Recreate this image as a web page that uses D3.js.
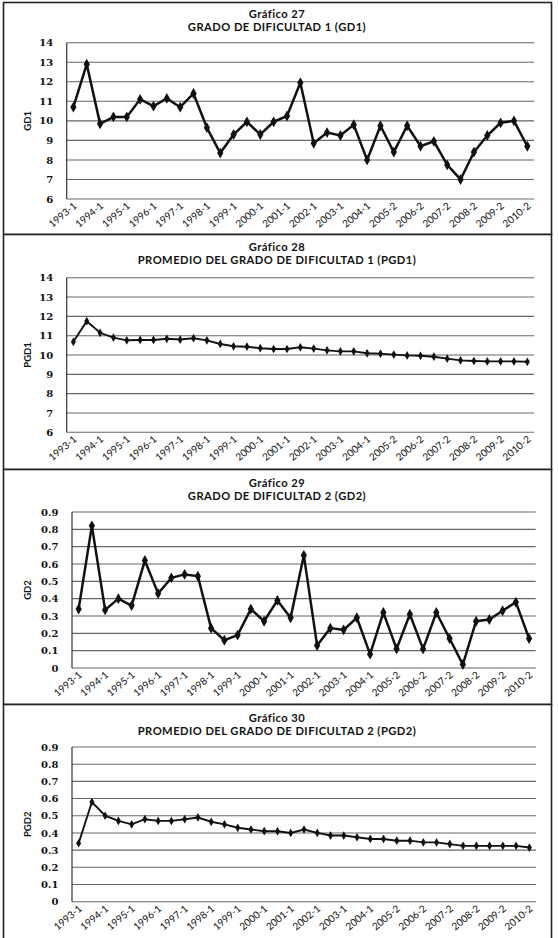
<!DOCTYPE html>
<html>
<head>
<meta charset="utf-8">
<script src="https://cdnjs.cloudflare.com/ajax/libs/d3/7.8.5/d3.min.js"></script>
<style>
  body { margin: 0; background: #fff; }
</style>
</head>
<body>
<div id="renderDiv"></div>
<script>
// semesters (one is missing between 2004-1 and 2005-2 in the source)
let periods = ["1993-1","1993-2","1994-1","1994-2","1995-1","1995-2","1996-1","1996-2",
  "1997-1","1997-2","1998-1","1998-2","1999-1","1999-2","2000-1","2000-2","2001-1","2001-2",
  "2002-1","2002-2","2003-1","2003-2","2004-1","2004-2","2005-2","2006-1","2006-2","2007-1",
  "2007-2","2008-1","2008-2","2009-1","2009-2","2010-1","2010-2"];

let gd1 = [10.7,12.9,9.85,10.2,10.2,11.1,10.75,11.15,10.7,11.4,9.65,8.35,9.3,9.95,9.3,9.95,
  10.25,11.95,8.85,9.4,9.25,9.8,8.0,9.75,8.4,9.75,8.7,8.95,7.75,7.0,8.4,9.25,9.9,10.0,8.7];
let pgd1 = [10.68,11.75,11.15,10.9,10.76,10.78,10.78,10.84,10.8,10.87,10.76,10.57,10.45,10.43,
  10.35,10.31,10.31,10.4,10.33,10.24,10.19,10.19,10.09,10.07,10.02,9.98,9.96,9.91,9.81,9.72,
  9.69,9.67,9.67,9.67,9.65];
let gd2 = [0.34,0.82,0.335,0.40,0.36,0.62,0.43,0.52,0.54,0.53,0.23,0.16,0.19,0.34,0.27,0.39,
  0.29,0.65,0.13,0.23,0.22,0.29,0.08,0.32,0.11,0.31,0.11,0.32,0.17,0.02,0.27,0.28,0.33,0.38,0.17];
let pgd2 = [0.34,0.58,0.50,0.47,0.45,0.48,0.47,0.47,0.48,0.49,0.465,0.45,0.43,0.42,0.41,0.41,
  0.40,0.42,0.40,0.385,0.385,0.375,0.365,0.365,0.355,0.355,0.345,0.345,0.335,0.325,0.325,
  0.325,0.325,0.325,0.315];

let ticksGD1 = [6,7,8,9,10,11,12,13,14];
let ticksGD2 = [0,0.1,0.2,0.3,0.4,0.5,0.6,0.7,0.8,0.9];

let titles = [
  ["Gráfico  27", "GRADO DE DIFICULTAD 1 (GD1)"],
  ["Gráfico  28", "PROMEDIO DEL GRADO DE DIFICULTAD 1 (PGD1)"],
  ["Gráfico  29", "GRADO DE DIFICULTAD 2 (GD2)"],
  ["Gráfico  30", "PROMEDIO DEL GRADO DE DIFICULTAD 2 (PGD2)"]
];
let yNames = ["GD1", "PGD1", "GD2", "PGD2"];

// layout of each panel
let charts = [
  {values: gd1,  ticks: ticksGD1, top: 2,   bottom: 234, ty: [17.5, 30.5], l: 66.7, t: 42.7,  r: 534,   b: 199,   lw: 2.5, ms: 34},
  {values: pgd1, ticks: ticksGD1, top: 234, bottom: 469, ty: [251, 264],   l: 66.7, t: 277.7, r: 534,   b: 432.3, lw: 1.9, ms: 22},
  {values: gd2,  ticks: ticksGD2, top: 469, bottom: 704, ty: [486.5, 500], l: 72,   t: 512,   r: 535.7, b: 668,   lw: 2.5, ms: 34},
  {values: pgd2, ticks: ticksGD2, top: 704, bottom: 945, ty: [721.5, 735], l: 72,   t: 747,   r: 536,   b: 901.7, lw: 1.9, ms: 22}
];

let W = 558, H = 938;
let sans = "Lato, 'Open Sans', sans-serif";

let svg = d3.select("#renderDiv").append("svg")
    .attr("width", W)
    .attr("height", H);

charts.forEach(function(c, i){
    let g = svg.append("g");

    // panel frame
    g.append("rect")
        .attr("x", 3.5).attr("y", c.top + 0.5)
        .attr("width", 548).attr("height", c.bottom - c.top)
        .attr("fill", "#fff")
        .attr("stroke", "#222")
        .attr("stroke-width", 1.6);

    // titles
    g.selectAll(".title")
        .data(titles[i])
        .enter()
        .append("text")
        .attr("x", 277)
        .attr("y", function(d, k){ return c.ty[k]; })
        .attr("text-anchor", "middle")
        .style("font-family", sans)
        .style("font-weight", "bold")
        .style("font-size", "11.2px")
        .style("letter-spacing", "0.45px")
        .style("fill", "#111")
        .text(function(d){ return d; });

    let x = d3.scaleBand().domain(periods).range([c.l, c.r]).padding(0);
    let y = d3.scaleLinear().domain(d3.extent(c.ticks)).range([c.b, c.t]);
    let cx = function(p){ return x(p) + x.bandwidth() / 2; };

    // gridlines
    g.selectAll(".grid")
        .data(c.ticks)
        .enter()
        .append("line")
        .attr("x1", c.l).attr("x2", c.r)
        .attr("y1", function(d){ return y(d); })
        .attr("y2", function(d){ return y(d); })
        .attr("stroke", "#666")
        .attr("stroke-width", 1.1);

    // y axis line
    g.append("line")
        .attr("x1", c.l).attr("x2", c.l)
        .attr("y1", c.t).attr("y2", c.b)
        .attr("stroke", "#333")
        .attr("stroke-width", 1.2);

    // y tick labels
    g.selectAll(".ytick")
        .data(c.ticks)
        .enter()
        .append("text")
        .attr("x", c.l - 13.5)
        .attr("y", function(d){ return y(d); })
        .attr("dy", "0.36em")
        .attr("text-anchor", "end")
        .style("font-family", "'DejaVu Serif', serif")
        .style("font-weight", "bold")
        .style("font-size", "10px")
        .style("fill", "#111")
        .text(function(d){ return d === 0 ? "0" : (d < 1 ? d.toFixed(1) : d); });

    // y axis title
    g.append("text")
        .attr("transform", "translate(" + 31 + "," + ((c.t + c.b) / 2) + ")rotate(-90)")
        .attr("text-anchor", "middle")
        .style("font-family", sans)
        .style("font-weight", "bold")
        .style("font-size", "9.5px")
        .style("fill", "#111")
        .text(yNames[i]);

    // x labels every second semester
    g.selectAll(".xlab")
        .data(periods.filter(function(p, k){ return k % 2 == 0; }))
        .enter()
        .append("text")
        .attr("transform", function(d){ return "translate(" + (cx(d) + 4) + "," + (c.b + 8) + ")rotate(-40)"; })
        .attr("text-anchor", "end")
        .style("font-family", sans)
        .style("font-size", "10px")
        .style("fill", "#111")
        .text(function(d){ return d; });

    // series line
    let pts = periods.map(function(p, k){ return [cx(p), y(c.values[k])]; });
    g.append("path")
        .attr("d", d3.line()(pts))
        .attr("fill", "none")
        .attr("stroke", "#111")
        .attr("stroke-width", c.lw)
        .attr("stroke-linejoin", "miter");

    // markers
    g.selectAll(".mark")
        .data(pts)
        .enter()
        .append("path")
        .attr("transform", function(d){ return "translate(" + d[0] + "," + d[1] + ")"; })
        .attr("d", d3.symbol().type(d3.symbolDiamond).size(c.ms))
        .attr("fill", "#111");
});
</script>
</body>
</html>
